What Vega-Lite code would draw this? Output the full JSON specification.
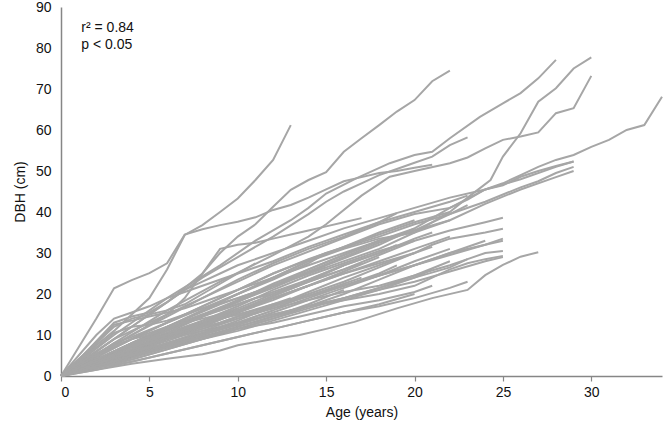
{
"$schema": "https://vega.github.io/schema/vega-lite/v6.json",
"width": 601, "height": 369,
"autosize": "none",
"padding": {"left": 61, "top": 7, "right": 1, "bottom": 56},
"config": {"view": {"stroke": null}, "font": "Liberation Sans"},
"layer": [
{
"data": {"values": [
{"t":"A","a":0,"d":0},{"t":"A","a":1,"d":3.5},{"t":"A","a":2,"d":7.5},{"t":"A","a":3,"d":11},{"t":"A","a":4,"d":15},{"t":"A","a":5,"d":19},{"t":"A","a":6,"d":26},{"t":"A","a":7,"d":34.4},{"t":"A","a":8,"d":36.8},{"t":"A","a":9,"d":40},{"t":"A","a":10,"d":43.3},{"t":"A","a":11,"d":47.8},{"t":"A","a":12,"d":52.7},{"t":"A","a":13,"d":61.2},
{"t":"B","a":0,"d":0},{"t":"B","a":1,"d":7},{"t":"B","a":2,"d":14},{"t":"B","a":3,"d":21.4},{"t":"B","a":4,"d":23.4},{"t":"B","a":5,"d":25.1},{"t":"B","a":6,"d":27.5},{"t":"B","a":7,"d":34.5},{"t":"B","a":8,"d":35.8},{"t":"B","a":9,"d":36.8},{"t":"B","a":10,"d":37.6},{"t":"B","a":11,"d":38.7},{"t":"B","a":12,"d":40.5},{"t":"B","a":13,"d":41.7},{"t":"B","a":14,"d":43.5},{"t":"B","a":15,"d":45.5},{"t":"B","a":16,"d":47.5},{"t":"B","a":17,"d":48.5},{"t":"B","a":18,"d":49.5},{"t":"B","a":19,"d":50},{"t":"B","a":20,"d":50.8},{"t":"B","a":21,"d":51.5},
{"t":"L3","a":0,"d":0},{"t":"L3","a":2,"d":6},{"t":"L3","a":4,"d":12},{"t":"L3","a":6,"d":18},{"t":"L3","a":8,"d":25},{"t":"L3","a":9,"d":30},{"t":"L3","a":10,"d":34},{"t":"L3","a":11,"d":37},{"t":"L3","a":12,"d":41.3},{"t":"L3","a":13,"d":45.4},{"t":"L3","a":14,"d":47.8},{"t":"L3","a":15,"d":49.7},{"t":"L3","a":16,"d":54.7},{"t":"L3","a":17,"d":58},{"t":"L3","a":18,"d":61.2},{"t":"L3","a":19,"d":64.5},{"t":"L3","a":20,"d":67.3},{"t":"L3","a":21,"d":71.9},{"t":"L3","a":22,"d":74.5},
{"t":"L4","a":0,"d":0},{"t":"L4","a":3,"d":10},{"t":"L4","a":6,"d":19},{"t":"L4","a":9,"d":27},{"t":"L4","a":11,"d":33},{"t":"L4","a":13,"d":38},{"t":"L4","a":14,"d":41},{"t":"L4","a":15,"d":44.5},{"t":"L4","a":16.7,"d":48.2},{"t":"L4","a":18.6,"d":51.9},{"t":"L4","a":20,"d":53.9},{"t":"L4","a":21,"d":54.7},{"t":"L4","a":22,"d":58},{"t":"L4","a":23.7,"d":63.2},{"t":"L4","a":25,"d":66.5},{"t":"L4","a":26,"d":69},{"t":"L4","a":27,"d":72.6},{"t":"L4","a":28,"d":77.1},
{"t":"L5","a":0,"d":0},{"t":"L5","a":3,"d":6},{"t":"L5","a":6,"d":12},{"t":"L5","a":9,"d":17.5},{"t":"L5","a":12,"d":22},{"t":"L5","a":15,"d":26.5},{"t":"L5","a":18,"d":31},{"t":"L5","a":20,"d":35},{"t":"L5","a":22,"d":40},{"t":"L5","a":23,"d":43.5},{"t":"L5","a":24.3,"d":47.8},{"t":"L5","a":25,"d":53.5},{"t":"L5","a":26,"d":59.2},{"t":"L5","a":27,"d":66.9},{"t":"L5","a":28,"d":70.2},{"t":"L5","a":29,"d":75},{"t":"L5","a":30,"d":77.7},
{"t":"L6","a":0,"d":0},{"t":"L6","a":3,"d":8},{"t":"L6","a":6,"d":16},{"t":"L6","a":9,"d":23},{"t":"L6","a":12,"d":29.5},{"t":"L6","a":14,"d":34},{"t":"L6","a":15,"d":37},{"t":"L6","a":17,"d":44},{"t":"L6","a":18.6,"d":48.6},{"t":"L6","a":20,"d":50},{"t":"L6","a":22,"d":51.9},{"t":"L6","a":23,"d":53.3},{"t":"L6","a":24,"d":55.5},{"t":"L6","a":25,"d":57.6},{"t":"L6","a":26,"d":58.4},{"t":"L6","a":27,"d":59.4},{"t":"L6","a":28,"d":64.1},{"t":"L6","a":29,"d":65.3},{"t":"L6","a":30,"d":73.2},
{"t":"L7","a":0,"d":0},{"t":"L7","a":3,"d":5.5},{"t":"L7","a":6,"d":11},{"t":"L7","a":9,"d":16.5},{"t":"L7","a":12,"d":21.5},{"t":"L7","a":15,"d":27},{"t":"L7","a":18,"d":32},{"t":"L7","a":20,"d":36},{"t":"L7","a":22,"d":41},{"t":"L7","a":24,"d":45.5},{"t":"L7","a":25,"d":47},{"t":"L7","a":26,"d":49},{"t":"L7","a":27,"d":51},{"t":"L7","a":28,"d":52.7},{"t":"L7","a":29,"d":53.9},{"t":"L7","a":30,"d":55.9},{"t":"L7","a":31,"d":57.6},{"t":"L7","a":32,"d":60},{"t":"L7","a":33,"d":61.2},{"t":"L7","a":34,"d":68.1},
{"t":"L8","a":0,"d":0},{"t":"L8","a":2,"d":6},{"t":"L8","a":4,"d":12},{"t":"L8","a":6,"d":18},{"t":"L8","a":8,"d":24},{"t":"L8","a":10,"d":29},{"t":"L8","a":12,"d":34},{"t":"L8","a":14,"d":39.5},{"t":"L8","a":15,"d":42.5},{"t":"L8","a":16,"d":45},{"t":"L8","a":17,"d":47},{"t":"L8","a":18,"d":49},{"t":"L8","a":19,"d":50.5},{"t":"L8","a":20,"d":52},{"t":"L8","a":21,"d":53.5},{"t":"L8","a":22,"d":56.3},{"t":"L8","a":23,"d":58.2},
{"t":"R1","a":0,"d":0},{"t":"R1","a":3,"d":9},{"t":"R1","a":6,"d":15},{"t":"R1","a":9,"d":21},{"t":"R1","a":12,"d":27},{"t":"R1","a":15,"d":32},{"t":"R1","a":18,"d":37},{"t":"R1","a":20,"d":39.5},{"t":"R1","a":22,"d":41},{"t":"R1","a":23,"d":43},{"t":"R1","a":24,"d":45.5},{"t":"R1","a":25,"d":46.5},{"t":"R1","a":26,"d":48.6},{"t":"R1","a":27,"d":50},{"t":"R1","a":28,"d":51.2},{"t":"R1","a":29,"d":52.3},
{"t":"R2","a":0,"d":0},{"t":"R2","a":3,"d":7},{"t":"R2","a":6,"d":13},{"t":"R2","a":9,"d":19},{"t":"R2","a":12,"d":25},{"t":"R2","a":15,"d":30},{"t":"R2","a":18,"d":34},{"t":"R2","a":20,"d":37},{"t":"R2","a":22,"d":39.5},{"t":"R2","a":24,"d":42.5},{"t":"R2","a":26,"d":46},{"t":"R2","a":27,"d":47.5},{"t":"R2","a":28,"d":49.5},{"t":"R2","a":29,"d":51},
{"t":"R3","a":0,"d":0},{"t":"R3","a":2,"d":4},{"t":"R3","a":4,"d":8},{"t":"R3","a":6,"d":12},{"t":"R3","a":8,"d":16},{"t":"R3","a":10,"d":20},{"t":"R3","a":12,"d":24},{"t":"R3","a":14,"d":28},{"t":"R3","a":16,"d":31},{"t":"R3","a":18,"d":33.5},{"t":"R3","a":20,"d":35},{"t":"R3","a":22,"d":38},{"t":"R3","a":24,"d":42},{"t":"R3","a":26,"d":45.5},{"t":"R3","a":28,"d":48.5},{"t":"R3","a":29,"d":50},
{"t":"E1","a":0,"d":0},{"t":"E1","a":1,"d":5},{"t":"E1","a":2,"d":10},{"t":"E1","a":3,"d":14},{"t":"E1","a":4,"d":15.5},{"t":"E1","a":5,"d":17},{"t":"E1","a":6,"d":19},{"t":"E1","a":7,"d":20.5},{"t":"E1","a":8,"d":22},{"t":"E1","a":10,"d":25},{"t":"E1","a":12,"d":28},{"t":"E1","a":14,"d":31.5},{"t":"E1","a":16,"d":34.5},{"t":"E1","a":18,"d":37.5},{"t":"E1","a":20,"d":40},{"t":"E1","a":22,"d":42.5},{"t":"E1","a":23,"d":44},
{"t":"E2","a":0,"d":0},{"t":"E2","a":1,"d":4},{"t":"E2","a":2,"d":8.5},{"t":"E2","a":3,"d":13},{"t":"E2","a":4,"d":14.5},{"t":"E2","a":5,"d":15.5},{"t":"E2","a":6,"d":18},{"t":"E2","a":7,"d":21},{"t":"E2","a":8,"d":23},{"t":"E2","a":9,"d":25},{"t":"E2","a":10,"d":27},{"t":"E2","a":12,"d":30},{"t":"E2","a":14,"d":33},{"t":"E2","a":16,"d":36},{"t":"E2","a":18,"d":38.5},{"t":"E2","a":20,"d":41},{"t":"E2","a":22,"d":43.5},{"t":"E2","a":24,"d":45.5},{"t":"E2","a":26,"d":48},{"t":"E2","a":28,"d":51},{"t":"E2","a":29,"d":52.3},
{"t":"E3","a":0,"d":0},{"t":"E3","a":1,"d":4},{"t":"E3","a":2,"d":8},{"t":"E3","a":3,"d":12.5},{"t":"E3","a":4,"d":13.5},{"t":"E3","a":5,"d":14.5},{"t":"E3","a":6,"d":15.5},{"t":"E3","a":7,"d":16.5},{"t":"E3","a":8,"d":18},{"t":"E3","a":9,"d":19.5},{"t":"E3","a":10,"d":21},{"t":"E3","a":12,"d":24},{"t":"E3","a":14,"d":27},{"t":"E3","a":16,"d":30},{"t":"E3","a":18,"d":33},{"t":"E3","a":20,"d":35.5},{"t":"E3","a":22,"d":38},
{"t":"E4","a":0,"d":0},{"t":"E4","a":1,"d":3.5},{"t":"E4","a":2,"d":7},{"t":"E4","a":3,"d":10.5},{"t":"E4","a":4,"d":12},{"t":"E4","a":5,"d":12.5},{"t":"E4","a":6,"d":13.5},{"t":"E4","a":7,"d":15},{"t":"E4","a":8,"d":16.5},{"t":"E4","a":10,"d":19},{"t":"E4","a":12,"d":22},{"t":"E4","a":14,"d":25},{"t":"E4","a":15,"d":26.5},
{"t":"U3","a":0,"d":0},{"t":"U3","a":2,"d":5},{"t":"U3","a":4,"d":10},{"t":"U3","a":6,"d":15},{"t":"U3","a":7,"d":19},{"t":"U3","a":8,"d":25},{"t":"U3","a":9,"d":31},{"t":"U3","a":10,"d":32},{"t":"U3","a":11,"d":32.5},{"t":"U3","a":12,"d":33.5},{"t":"U3","a":13,"d":34.5},{"t":"U3","a":14,"d":35.5},{"t":"U3","a":15,"d":36.5},{"t":"U3","a":16,"d":37.5},{"t":"U3","a":17,"d":38.5},
{"t":"C1","a":0,"d":0},{"t":"C1","a":2,"d":3},{"t":"C1","a":4,"d":6.5},{"t":"C1","a":6,"d":10},{"t":"C1","a":8,"d":13.5},{"t":"C1","a":10,"d":17},{"t":"C1","a":12,"d":21},{"t":"C1","a":14,"d":24.5},{"t":"C1","a":16,"d":27.5},{"t":"C1","a":18,"d":30.5},{"t":"C1","a":20,"d":33},{"t":"C1","a":22,"d":35.5},{"t":"C1","a":24,"d":37.5},{"t":"C1","a":25,"d":38.6},
{"t":"C2","a":0,"d":0},{"t":"C2","a":2,"d":2.5},{"t":"C2","a":4,"d":5.5},{"t":"C2","a":6,"d":9},{"t":"C2","a":8,"d":12},{"t":"C2","a":10,"d":15.5},{"t":"C2","a":12,"d":19},{"t":"C2","a":14,"d":22},{"t":"C2","a":16,"d":25},{"t":"C2","a":18,"d":27.5},{"t":"C2","a":20,"d":30},{"t":"C2","a":21,"d":32},{"t":"C2","a":22,"d":33.5},{"t":"C2","a":24,"d":35},{"t":"C2","a":25,"d":35.9},
{"t":"C3","a":0,"d":0},{"t":"C3","a":2,"d":3.5},{"t":"C3","a":4,"d":7},{"t":"C3","a":6,"d":10},{"t":"C3","a":8,"d":13},{"t":"C3","a":10,"d":15},{"t":"C3","a":12,"d":17.5},{"t":"C3","a":14,"d":19.5},{"t":"C3","a":16,"d":22},{"t":"C3","a":18,"d":24.5},{"t":"C3","a":20,"d":27},{"t":"C3","a":22,"d":30},{"t":"C3","a":24,"d":32},{"t":"C3","a":25,"d":33},
{"t":"C4","a":0,"d":0},{"t":"C4","a":2,"d":2},{"t":"C4","a":4,"d":4.5},{"t":"C4","a":6,"d":7},{"t":"C4","a":8,"d":9.5},{"t":"C4","a":10,"d":12},{"t":"C4","a":12,"d":14.5},{"t":"C4","a":14,"d":17},{"t":"C4","a":16,"d":19},{"t":"C4","a":18,"d":21.5},{"t":"C4","a":20,"d":24},{"t":"C4","a":22,"d":26.5},{"t":"C4","a":23,"d":28.5},{"t":"C4","a":24,"d":30},{"t":"C4","a":25,"d":30.5},
{"t":"C5","a":0,"d":0},{"t":"C5","a":2,"d":3},{"t":"C5","a":4,"d":6},{"t":"C5","a":6,"d":9},{"t":"C5","a":8,"d":11},{"t":"C5","a":10,"d":13},{"t":"C5","a":12,"d":15},{"t":"C5","a":14,"d":17},{"t":"C5","a":16,"d":18.5},{"t":"C5","a":18,"d":20},{"t":"C5","a":20,"d":22},{"t":"C5","a":21,"d":24},{"t":"C5","a":22,"d":26},{"t":"C5","a":23,"d":27.5},{"t":"C5","a":24,"d":28.5},{"t":"C5","a":25,"d":29.3},
{"t":"C6","a":0,"d":0},{"t":"C6","a":2,"d":1.5},{"t":"C6","a":4,"d":3},{"t":"C6","a":6,"d":4.2},{"t":"C6","a":8,"d":5.3},{"t":"C6","a":9,"d":6.2},{"t":"C6","a":10,"d":7.5},{"t":"C6","a":12,"d":9},{"t":"C6","a":13.5,"d":10},{"t":"C6","a":15,"d":11.5},{"t":"C6","a":16.6,"d":13.2},{"t":"C6","a":19,"d":16.5},{"t":"C6","a":21,"d":19},{"t":"C6","a":23,"d":21},{"t":"C6","a":24,"d":24.6},{"t":"C6","a":25,"d":27.1},{"t":"C6","a":26,"d":29.1},{"t":"C6","a":27,"d":30.2},
{"t":"C8","a":0,"d":0},{"t":"C8","a":2,"d":4},{"t":"C8","a":4,"d":8},{"t":"C8","a":6,"d":12},{"t":"C8","a":8,"d":16},{"t":"C8","a":10,"d":20},{"t":"C8","a":12,"d":24},{"t":"C8","a":14,"d":28},{"t":"C8","a":16,"d":31.5},{"t":"C8","a":18,"d":34.5},{"t":"C8","a":20,"d":37.5},{"t":"C8","a":22,"d":40},
{"t":"C9","a":0,"d":0},{"t":"C9","a":2,"d":4.5},{"t":"C9","a":4,"d":9},{"t":"C9","a":6,"d":13},{"t":"C9","a":8,"d":17},{"t":"C9","a":10,"d":21},{"t":"C9","a":12,"d":25},{"t":"C9","a":14,"d":28.5},{"t":"C9","a":16,"d":31.5},{"t":"C9","a":18,"d":35},{"t":"C9","a":20,"d":38},
{"t":"C10","a":0,"d":0},{"t":"C10","a":2,"d":3},{"t":"C10","a":4,"d":6},{"t":"C10","a":6,"d":9.5},{"t":"C10","a":8,"d":13},{"t":"C10","a":10,"d":16.5},{"t":"C10","a":12,"d":20},{"t":"C10","a":14,"d":23.5},{"t":"C10","a":16,"d":27},{"t":"C10","a":18,"d":30},{"t":"C10","a":20,"d":33.5},{"t":"C10","a":21,"d":35},
{"t":"C11","a":0,"d":0},{"t":"C11","a":2,"d":2.5},{"t":"C11","a":4,"d":5.5},{"t":"C11","a":6,"d":9},{"t":"C11","a":8,"d":12.5},{"t":"C11","a":10,"d":16},{"t":"C11","a":12,"d":19.5},{"t":"C11","a":14,"d":23},{"t":"C11","a":16,"d":26},{"t":"C11","a":18,"d":29.5},{"t":"C11","a":20,"d":33},
{"t":"C12","a":0,"d":0},{"t":"C12","a":2,"d":5},{"t":"C12","a":4,"d":10},{"t":"C12","a":6,"d":14.5},{"t":"C12","a":8,"d":19},{"t":"C12","a":10,"d":23.5},{"t":"C12","a":12,"d":27.5},{"t":"C12","a":14,"d":31},{"t":"C12","a":16,"d":34},{"t":"C12","a":18,"d":37.5},{"t":"C12","a":19,"d":39.7},
{"t":"C13","a":0,"d":0},{"t":"C13","a":2,"d":3},{"t":"C13","a":4,"d":6.5},{"t":"C13","a":6,"d":10.5},{"t":"C13","a":8,"d":14.5},{"t":"C13","a":10,"d":18},{"t":"C13","a":12,"d":22},{"t":"C13","a":14,"d":25.5},{"t":"C13","a":16,"d":29},{"t":"C13","a":18,"d":32.5},{"t":"C13","a":20,"d":35.5},{"t":"C13","a":22,"d":39.5},{"t":"C13","a":23,"d":41.7},
{"t":"C14","a":0,"d":0},{"t":"C14","a":2,"d":2},{"t":"C14","a":4,"d":4.5},{"t":"C14","a":6,"d":7.5},{"t":"C14","a":8,"d":10.5},{"t":"C14","a":10,"d":13.5},{"t":"C14","a":12,"d":17},{"t":"C14","a":14,"d":20},{"t":"C14","a":16,"d":23},{"t":"C14","a":18,"d":26.5},{"t":"C14","a":20,"d":30},
{"t":"C15","a":0,"d":0},{"t":"C15","a":2,"d":2.5},{"t":"C15","a":4,"d":5},{"t":"C15","a":6,"d":8},{"t":"C15","a":8,"d":10.5},{"t":"C15","a":10,"d":13},{"t":"C15","a":12,"d":16},{"t":"C15","a":14,"d":19},{"t":"C15","a":16,"d":22},{"t":"C15","a":18,"d":25},{"t":"C15","a":19,"d":27},
{"t":"C16","a":0,"d":0},{"t":"C16","a":2,"d":3.5},{"t":"C16","a":4,"d":7.5},{"t":"C16","a":6,"d":11.5},{"t":"C16","a":8,"d":15},{"t":"C16","a":10,"d":18.5},{"t":"C16","a":12,"d":22.5},{"t":"C16","a":14,"d":26},{"t":"C16","a":16,"d":29.5},{"t":"C16","a":18,"d":33},
{"t":"C17","a":0,"d":0},{"t":"C17","a":2,"d":2},{"t":"C17","a":4,"d":4},{"t":"C17","a":6,"d":6.5},{"t":"C17","a":8,"d":9},{"t":"C17","a":10,"d":11.5},{"t":"C17","a":12,"d":14},{"t":"C17","a":14,"d":16.5},{"t":"C17","a":16,"d":19},{"t":"C17","a":18,"d":21.5},{"t":"C17","a":20,"d":24.5},{"t":"C17","a":22,"d":28},
{"t":"C18","a":0,"d":0},{"t":"C18","a":2,"d":2.5},{"t":"C18","a":4,"d":4.5},{"t":"C18","a":6,"d":7},{"t":"C18","a":8,"d":9},{"t":"C18","a":10,"d":11},{"t":"C18","a":12,"d":13.5},{"t":"C18","a":14,"d":16},{"t":"C18","a":16,"d":18.5},{"t":"C18","a":18,"d":21},{"t":"C18","a":20,"d":24},{"t":"C18","a":21,"d":26},
{"t":"C19","a":0,"d":0},{"t":"C19","a":2,"d":3},{"t":"C19","a":4,"d":6},{"t":"C19","a":6,"d":9},{"t":"C19","a":8,"d":11.5},{"t":"C19","a":10,"d":14},{"t":"C19","a":12,"d":16.5},{"t":"C19","a":14,"d":19.5},{"t":"C19","a":16,"d":22.5},{"t":"C19","a":17,"d":24},
{"t":"C20","a":0,"d":0},{"t":"C20","a":2,"d":5},{"t":"C20","a":3,"d":8},{"t":"C20","a":4,"d":9.5},{"t":"C20","a":6,"d":13},{"t":"C20","a":8,"d":16.5},{"t":"C20","a":10,"d":20},{"t":"C20","a":12,"d":23.5},{"t":"C20","a":14,"d":27.5},{"t":"C20","a":15,"d":30},
{"t":"C21","a":0,"d":0},{"t":"C21","a":1,"d":4},{"t":"C21","a":2,"d":8},{"t":"C21","a":3,"d":12},{"t":"C21","a":4,"d":14},{"t":"C21","a":5,"d":15},{"t":"C21","a":6,"d":16},{"t":"C21","a":7,"d":17.5},{"t":"C21","a":8,"d":20},{"t":"C21","a":9,"d":22.5},{"t":"C21","a":10,"d":25},{"t":"C21","a":11,"d":27.5},
{"t":"C22","a":0,"d":0},{"t":"C22","a":2,"d":2},{"t":"C22","a":4,"d":4.5},{"t":"C22","a":6,"d":7},{"t":"C22","a":8,"d":9.5},{"t":"C22","a":10,"d":12},{"t":"C22","a":12,"d":14.5},{"t":"C22","a":14,"d":17.5},{"t":"C22","a":16,"d":21},
{"t":"C23","a":0,"d":0},{"t":"C23","a":2,"d":1.5},{"t":"C23","a":4,"d":3.5},{"t":"C23","a":6,"d":5.5},{"t":"C23","a":8,"d":7.5},{"t":"C23","a":10,"d":9.5},{"t":"C23","a":12,"d":11.5},{"t":"C23","a":14,"d":13.5},{"t":"C23","a":16,"d":15.5},{"t":"C23","a":18,"d":17.5},{"t":"C23","a":20,"d":20},
{"t":"C24","a":0,"d":0},{"t":"C24","a":2,"d":2},{"t":"C24","a":4,"d":3.5},{"t":"C24","a":6,"d":5.5},{"t":"C24","a":8,"d":7.5},{"t":"C24","a":10,"d":9.5},{"t":"C24","a":12,"d":11.5},{"t":"C24","a":14,"d":13.5},{"t":"C24","a":16,"d":15.5},{"t":"C24","a":18,"d":17},{"t":"C24","a":20,"d":19},{"t":"C24","a":22,"d":21.5},{"t":"C24","a":23,"d":23},
{"t":"C25","a":0,"d":0},{"t":"C25","a":2,"d":4},{"t":"C25","a":4,"d":7.5},{"t":"C25","a":6,"d":10.5},{"t":"C25","a":8,"d":13.5},{"t":"C25","a":10,"d":16},{"t":"C25","a":12,"d":19},{"t":"C25","a":14,"d":22},
{"t":"C26","a":0,"d":0},{"t":"C26","a":2,"d":3},{"t":"C26","a":4,"d":5.5},{"t":"C26","a":6,"d":8},{"t":"C26","a":8,"d":10.5},{"t":"C26","a":10,"d":13},{"t":"C26","a":12,"d":16},
{"t":"C27","a":0,"d":0},{"t":"C27","a":2,"d":4},{"t":"C27","a":4,"d":7.5},{"t":"C27","a":6,"d":11},{"t":"C27","a":8,"d":14.5},{"t":"C27","a":10,"d":18.5},{"t":"C27","a":12,"d":22},{"t":"C27","a":14,"d":26},{"t":"C27","a":16,"d":29.5},{"t":"C27","a":18,"d":33},{"t":"C27","a":20,"d":36},
{"t":"C28","a":0,"d":0},{"t":"C28","a":2,"d":3},{"t":"C28","a":4,"d":6},{"t":"C28","a":6,"d":9.5},{"t":"C28","a":8,"d":12.5},{"t":"C28","a":10,"d":15.5},{"t":"C28","a":12,"d":19},{"t":"C28","a":14,"d":22},{"t":"C28","a":16,"d":25},{"t":"C28","a":18,"d":28},{"t":"C28","a":20,"d":31},{"t":"C28","a":22,"d":34},
{"t":"C29","a":0,"d":0},{"t":"C29","a":2,"d":3},{"t":"C29","a":4,"d":6},{"t":"C29","a":6,"d":9},{"t":"C29","a":8,"d":12},{"t":"C29","a":10,"d":15.5},{"t":"C29","a":12,"d":18.5},{"t":"C29","a":14,"d":22},{"t":"C29","a":16,"d":25.5},{"t":"C29","a":18,"d":29},
{"t":"C30","a":0,"d":0},{"t":"C30","a":2,"d":2.5},{"t":"C30","a":4,"d":5},{"t":"C30","a":6,"d":8},{"t":"C30","a":8,"d":11},{"t":"C30","a":10,"d":14},{"t":"C30","a":12,"d":17},{"t":"C30","a":14,"d":20.5},{"t":"C30","a":16,"d":24},{"t":"C30","a":18,"d":27},{"t":"C30","a":20,"d":30},{"t":"C30","a":21,"d":31.5},
{"t":"C31","a":0,"d":0},{"t":"C31","a":2,"d":2},{"t":"C31","a":4,"d":4},{"t":"C31","a":6,"d":6.5},{"t":"C31","a":8,"d":9},{"t":"C31","a":10,"d":11.5},{"t":"C31","a":12,"d":14},{"t":"C31","a":14,"d":17},{"t":"C31","a":16,"d":20},{"t":"C31","a":18,"d":23.5},{"t":"C31","a":20,"d":27},{"t":"C31","a":22,"d":30},{"t":"C31","a":24,"d":33},
{"t":"C33","a":0,"d":0},{"t":"C33","a":2,"d":4},{"t":"C33","a":4,"d":8},{"t":"C33","a":6,"d":11.5},{"t":"C33","a":8,"d":14.5},{"t":"C33","a":10,"d":17.5},{"t":"C33","a":12,"d":20.5},{"t":"C33","a":14,"d":23.5},{"t":"C33","a":16,"d":27},{"t":"C33","a":18,"d":30},{"t":"C33","a":19,"d":32},
{"t":"C34","a":0,"d":0},{"t":"C34","a":2,"d":3.5},{"t":"C34","a":4,"d":7},{"t":"C34","a":6,"d":10},{"t":"C34","a":8,"d":13},{"t":"C34","a":10,"d":16},{"t":"C34","a":12,"d":19.5},{"t":"C34","a":14,"d":23},{"t":"C34","a":16,"d":27},
{"t":"C35","a":0,"d":0},{"t":"C35","a":2,"d":3},{"t":"C35","a":4,"d":6},{"t":"C35","a":6,"d":8.5},{"t":"C35","a":8,"d":11.5},{"t":"C35","a":10,"d":14.5},{"t":"C35","a":12,"d":17.5},{"t":"C35","a":13,"d":19},
{"t":"C36","a":0,"d":0},{"t":"C36","a":2,"d":2.5},{"t":"C36","a":4,"d":5},{"t":"C36","a":6,"d":7.5},{"t":"C36","a":8,"d":10},{"t":"C36","a":10,"d":12.5},{"t":"C36","a":12,"d":15.5},{"t":"C36","a":14,"d":18.5},{"t":"C36","a":16,"d":21.5},{"t":"C36","a":18,"d":24.5},{"t":"C36","a":20,"d":28},{"t":"C36","a":22,"d":31},
{"t":"C37","a":0,"d":0},{"t":"C37","a":1,"d":1.5},{"t":"C37","a":2,"d":3},{"t":"C37","a":3,"d":4.5},{"t":"C37","a":4,"d":5.5},{"t":"C37","a":5,"d":7},{"t":"C37","a":6,"d":8},{"t":"C37","a":7,"d":9},{"t":"C37","a":8,"d":10},{"t":"C37","a":9,"d":11.5},{"t":"C37","a":10,"d":12.5},{"t":"C37","a":12,"d":15},{"t":"C37","a":14,"d":17},{"t":"C37","a":16,"d":19},{"t":"C37","a":18,"d":21},{"t":"C37","a":20,"d":23},{"t":"C37","a":22,"d":25.5},{"t":"C37","a":24,"d":28},{"t":"C37","a":25,"d":29},
{"t":"C38","a":0,"d":0},{"t":"C38","a":1,"d":2},{"t":"C38","a":2,"d":3.5},{"t":"C38","a":3,"d":5},{"t":"C38","a":4,"d":6.5},{"t":"C38","a":5,"d":8},{"t":"C38","a":6,"d":9.5},{"t":"C38","a":7,"d":11},{"t":"C38","a":8,"d":12},{"t":"C38","a":9,"d":13},{"t":"C38","a":10,"d":14.5},{"t":"C38","a":12,"d":16.5},{"t":"C38","a":14,"d":18.5},{"t":"C38","a":16,"d":20.5},{"t":"C38","a":18,"d":22},{"t":"C38","a":20,"d":24.5},{"t":"C38","a":22,"d":27},{"t":"C38","a":23,"d":28.5},
{"t":"C39","a":0,"d":0},{"t":"C39","a":1,"d":1},{"t":"C39","a":2,"d":2.5},{"t":"C39","a":3,"d":3.5},{"t":"C39","a":4,"d":5},{"t":"C39","a":5,"d":6},{"t":"C39","a":6,"d":7},{"t":"C39","a":7,"d":8.5},{"t":"C39","a":8,"d":9.5},{"t":"C39","a":9,"d":10.5},{"t":"C39","a":10,"d":11.5},{"t":"C39","a":12,"d":13},{"t":"C39","a":14,"d":15},{"t":"C39","a":16,"d":17},{"t":"C39","a":18,"d":18.5},{"t":"C39","a":20,"d":20.5},{"t":"C39","a":21,"d":22},
{"t":"C40","a":0,"d":0},{"t":"C40","a":1,"d":2.5},{"t":"C40","a":2,"d":5},{"t":"C40","a":3,"d":7},{"t":"C40","a":4,"d":9},{"t":"C40","a":5,"d":10.5},{"t":"C40","a":6,"d":12},{"t":"C40","a":7,"d":13.5},{"t":"C40","a":8,"d":15},{"t":"C40","a":9,"d":16},{"t":"C40","a":10,"d":17.5},{"t":"C40","a":11,"d":19},{"t":"C40","a":12,"d":20},{"t":"C40","a":13,"d":21.5},{"t":"C40","a":14,"d":23},{"t":"C40","a":15,"d":24.5},{"t":"C40","a":16,"d":26},{"t":"C40","a":17,"d":27.5},
{"t":"C41","a":0,"d":0},{"t":"C41","a":1,"d":2},{"t":"C41","a":2,"d":4},{"t":"C41","a":3,"d":6},{"t":"C41","a":4,"d":7.5},{"t":"C41","a":5,"d":9},{"t":"C41","a":6,"d":10},{"t":"C41","a":7,"d":11},{"t":"C41","a":8,"d":12.5},{"t":"C41","a":9,"d":14},{"t":"C41","a":10,"d":15},{"t":"C41","a":12,"d":17},{"t":"C41","a":14,"d":19.5},{"t":"C41","a":16,"d":22},{"t":"C41","a":18,"d":24.5},{"t":"C41","a":20,"d":27},{"t":"C41","a":22,"d":29.5},{"t":"C41","a":24,"d":32},{"t":"C41","a":25,"d":33.5},
{"t":"C42","a":0,"d":0},{"t":"C42","a":1,"d":3},{"t":"C42","a":2,"d":5.5},{"t":"C42","a":3,"d":7.5},{"t":"C42","a":4,"d":9},{"t":"C42","a":5,"d":10},{"t":"C42","a":6,"d":11.5},{"t":"C42","a":7,"d":13},{"t":"C42","a":8,"d":14},{"t":"C42","a":9,"d":15},{"t":"C42","a":10,"d":16.5}
]},
"mark": {"type": "line", "color": "#a6a6a6", "strokeWidth": 2, "strokeJoin": "miter"},
"encoding": {
"x": {"field": "a", "type": "quantitative", "scale": {"domain": [0, 34], "nice": false},
 "axis": {"title": "Age (years)", "values": [0,5,10,15,20,25,30], "grid": false, "domainColor": "#868686", "domainWidth": 1.5, "tickColor": "#868686", "tickSize": 5, "tickWidth": 1.2, "labelFontSize": 14, "labelColor": "#111", "labelPadding": 4, "titleFontSize": 14, "titleFontWeight": "normal", "titleColor": "#111", "titlePadding": 6, "labelFont": "Liberation Sans", "titleFont": "Liberation Sans"}},
"y": {"field": "d", "type": "quantitative", "scale": {"domain": [0, 90], "nice": false},
 "axis": {"title": "DBH (cm)", "values": [0,10,20,30,40,50,60,70,80,90], "grid": false, "domainColor": "#868686", "domainWidth": 1.5, "ticks": false, "labelFontSize": 14, "labelColor": "#111", "labelPadding": 10, "titleFontSize": 14, "titleFontWeight": "normal", "titleColor": "#111", "titlePadding": 8, "labelFont": "Liberation Sans", "titleFont": "Liberation Sans"}},
"detail": {"field": "t", "type": "nominal"}
}
},
{
"data": {"values": [{"a": 1.15, "d": 85.0, "s": "r² = 0.84"}, {"a": 1.15, "d": 80.8, "s": "p < 0.05"}]},
"mark": {"type": "text", "align": "left", "baseline": "middle", "fontSize": 14, "font": "Liberation Sans", "color": "#111"},
"encoding": {
"x": {"field": "a", "type": "quantitative"},
"y": {"field": "d", "type": "quantitative"},
"text": {"field": "s", "type": "nominal"}
}
}
]
}
